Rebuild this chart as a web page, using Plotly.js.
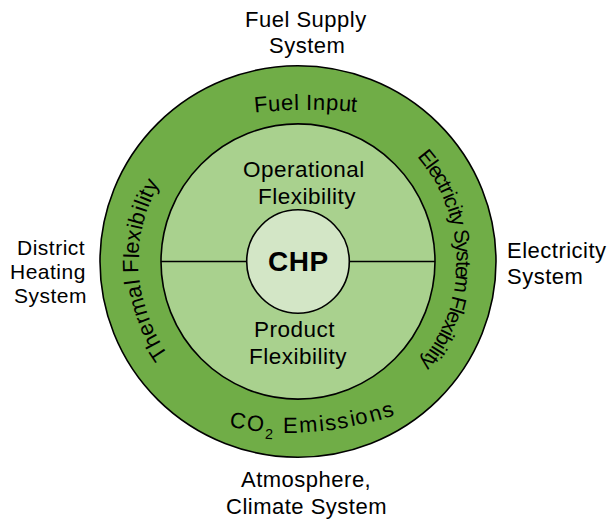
<!DOCTYPE html>
<html>
<head>
<meta charset="utf-8">
<script src="https://cdn.plot.ly/plotly-3.0.1.min.js"></script>
<style>
  html, body { margin: 0; padding: 0; background: #ffffff; }
  .annotation-text { letter-spacing: 0.5px; }
</style>
</head>
<body>
<div id="chart" style="width:608px;height:522px;"></div>
<script>
// ---------------- DATA (text content of the diagram) ----------------
const coreLabel   = ["CHP"];
const innerLabels = [["Operational", "Flexibility"], ["Product", "Flexibility"]];
const ringLabels  = ["Fuel Input", "Electricity System Flexibility", "CO₂ Emissions", "Thermal Flexibility"];
const outerLabels = [["Fuel Supply", "System"], ["Electricity", "System"],
                     ["Atmosphere,", "Climate System"], ["District", "Heating", "System"]];

// ---------------- GEOMETRY / STYLE (kept apart from the data) ----------------
const FONT = "Liberation Sans, Arial, sans-serif";
const CTR = { x: 298, y: 261.5 };
const discs = [
  { rx: 198,  ry: 195.7, fill: "#70ad47" },
  { rx: 137,  ry: 137.6, fill: "#a9d18e" },
  { rx: 51.3, ry: 51.7,  fill: "#d3e6c6" }
];
// arc layout for each ring label: arc centre, radius, angle of first & last glyph, size, orientation
const arcGeom = [
  { cx: 307,   cy: 602,   r: 500, a0: -95.3, a1: -84.5, size: 22, inward: false },
  { cx: 298,   cy: 261.5, r: 166, a0: -38.8, a1: 38.2,  size: 21, inward: false },
  { cx: 288.6, cy: 99,    r: 326, a0: 99.0,  a1: 72.3,  size: 22, inward: true  },
  { cx: 298,   cy: 261.5, r: 167, a0: 146.8, a1: 207.6, size: 22, inward: false }
];
// straight labels: per line position (cap centre), anchor, size
const outerGeom = [
  { lines: [[305.5, 19.2], [307, 45.8]], anchor: "center", size: 22 },
  { lines: [[505, 250], [505, 276.7]], anchor: "left", size: 22 },
  { lines: [[305.5, 479], [306, 506.3]], anchor: "center", size: 22 },
  { lines: [[51, 247.5], [48, 271], [50.5, 295.5]], anchor: "center", size: 21 }
];
const innerGeom = [
  { lines: [[304.3, 169.3], [307, 196]], size: 22.5 },
  { lines: [[294.7, 329], [298, 356]], size: 22.5 }
];
const coreGeom = { x: 298.3, y: 261.7, size: 28 };

// ---------------- BUILD ----------------
const shapes = [];
const annotations = [];
const lineStyle = { color: "#000000", width: 1.6 };

function disc(d) {
  shapes.push({ type: "circle", xref: "x", yref: "y",
    x0: CTR.x - d.rx, x1: CTR.x + d.rx, y0: CTR.y - d.ry, y1: CTR.y + d.ry,
    fillcolor: d.fill, line: lineStyle, layer: "above" });
}
disc(discs[0]);
disc(discs[1]);
shapes.push({ type: "line", xref: "x", yref: "y",
  x0: CTR.x - discs[1].rx, x1: CTR.x + discs[1].rx, y0: CTR.y, y1: CTR.y,
  line: lineStyle, layer: "above" });
disc(discs[2]);

function textAnn(x, y, text, size, opts) {
  annotations.push(Object.assign({
    x: x, y: y, xref: "x", yref: "y", text: text, showarrow: false,
    xanchor: "center", yanchor: "middle",
    font: { family: FONT, size: size, color: "#000000" }
  }, opts || {}));
}

// centre label
textAnn(coreGeom.x, coreGeom.y, "<b>" + coreLabel[0] + "</b>", coreGeom.size);

// inner halves
innerLabels.forEach((lines, i) => {
  lines.forEach((t, j) => {
    const p = innerGeom[i].lines[j];
    textAnn(p[0], p[1], t, innerGeom[i].size);
  });
});

// outer (system) labels
outerLabels.forEach((lines, i) => {
  const g = outerGeom[i];
  lines.forEach((t, j) => {
    const p = g.lines[j];
    textAnn(p[0], p[1], t, g.size, { xanchor: g.anchor });
  });
});

// ring labels placed glyph by glyph along arcs
const ctx = document.createElement("canvas").getContext("2d");
function arcText(label, g) {
  const items = [...label].map(ch => {
    const sub = ch === "₂";
    const t = sub ? "2" : ch;
    const sz = sub ? g.size * 0.65 : g.size;
    ctx.font = sz + "px " + FONT;
    return { t: t, sz: sz, sub: sub, w: ctx.measureText(t).width + 0.6 };
  });
  let s = 0;
  const centres = items.map(it => { const c = s + it.w / 2; s += it.w; return c; });
  const first = centres[0], last = centres[centres.length - 1];
  items.forEach((it, i) => {
    if (it.t === " ") return;
    const f = (centres[i] - first) / (last - first);
    const deg = g.a0 + (g.a1 - g.a0) * f;
    const th = deg * Math.PI / 180;
    const r = g.r + (it.sub ? (g.inward ? 10 : -10) : 0);
    textAnn(g.cx + r * Math.cos(th), g.cy + r * Math.sin(th), it.t, it.sz,
      { textangle: g.inward ? deg - 90 : deg + 90 });
  });
}
ringLabels.forEach((lab, i) => arcText(lab, arcGeom[i]));

const layout = {
  width: 608, height: 522,
  margin: { l: 0, r: 0, t: 0, b: 0, pad: 0 },
  paper_bgcolor: "#ffffff", plot_bgcolor: "#ffffff",
  showlegend: false,
  xaxis: { range: [0, 608], visible: false, fixedrange: true },
  yaxis: { range: [522, 0], visible: false, fixedrange: true },
  shapes: shapes,
  annotations: annotations,
  font: { family: FONT, color: "#000000" }
};

Plotly.newPlot("chart", [{ x: [], y: [], type: "scatter", mode: "markers", hoverinfo: "skip" }],
  layout, { staticPlot: true, displayModeBar: false });
</script>
</body>
</html>
